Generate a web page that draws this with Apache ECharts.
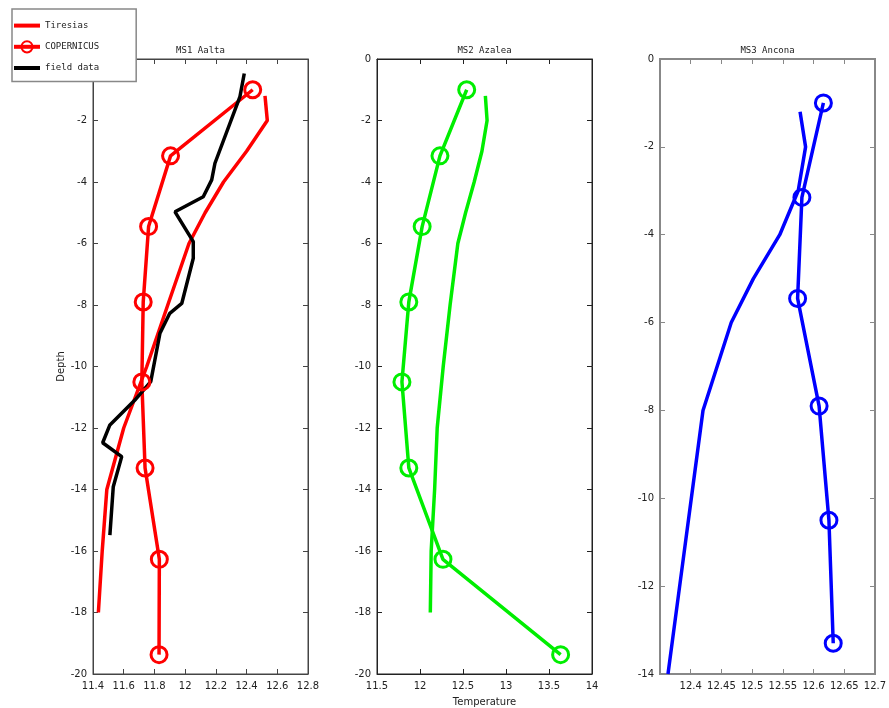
<!DOCTYPE html>
<html><head><meta charset="utf-8">
<script src="https://cdn.jsdelivr.net/npm/echarts@6/dist/echarts.min.js"></script>
<style>html,body{margin:0;padding:0;background:#fff}#c{width:889px;height:708px}</style>
</head><body><div id="c"></div>
<script>
// ---- data ----
const panelTitles = ['MS1 Aalta', 'MS2 Azalea', 'MS3 Ancona'];
const seriesNames = ['Tiresias', 'COPERNICUS', 'field data'];

const depthTiresias = [-1.2, -2, -3, -4, -5, -6, -8, -10, -12, -14, -16, -18];
const ms1Tiresias = [12.52, 12.535, 12.40, 12.25, 12.13, 12.025, 11.887, 11.75, 11.60, 11.49, 11.46, 11.435];
const ms2Tiresias = [12.76, 12.78, 12.72, 12.63, 12.53, 12.44, 12.35, 12.27, 12.20, 12.17, 12.13, 12.12];
const depthTiresiasMS3 = [-1.2, -2, -3, -4, -5, -6, -8, -10, -12, -14];
const ms3Tiresias = [12.578, 12.587, 12.575, 12.545, 12.502, 12.466, 12.42, 12.401, 12.382, 12.363];

const depthCopernicus = [-1, -3.15, -5.45, -7.9, -10.5, -13.3, -16.27, -19.37];
const ms1Copernicus = [12.44, 11.905, 11.762, 11.727, 11.718, 11.739, 11.832, 11.83];
const ms2Copernicus = [12.543, 12.232, 12.025, 11.87, 11.79, 11.87, 12.267, 13.635];
const depthCopernicusMS3 = [-1, -3.15, -5.45, -7.9, -10.5, -13.3];
const ms3Copernicus = [12.616, 12.581, 12.574, 12.609, 12.625, 12.632];

const depthField = [-0.47, -1.22, -3.39, -3.93, -4.48, -4.97, -5.94, -6.48, -7.95, -8.27, -8.92, -10.49, -11.09, -11.9, -12.48, -12.93, -13.91, -15.48];
const ms1Field = [12.385, 12.357, 12.194, 12.173, 12.118, 11.934, 12.053, 12.053, 11.978, 11.90, 11.836, 11.776, 11.673, 11.51, 11.463, 11.587, 11.532, 11.51];

// axis ranges (tick values)
const xMin = [11.4, 11.5, 12.35], xMax = [12.8, 14, 12.7], xStep = [0.2, 0.5, 0.05];
const yMin = [-20, -20, -14], yMax = [0, 0, 0], yStep = [2, 2, 2];

// ---- layout / style ----
const gridLeft = [93, 377, 660];
const gridW = 215, gridTop = 59, gridH = 615;
const colors = ['#ff0000', '#00ee00', '#0000ff'];
const axisCol = ['#444', '#222', '#888'];
const axisW = [1, 1, 2];
const font = 'DejaVu Sans';
const monoFont = 'DejaVu Sans Mono';

function pairs(xs, ys) { return xs.map((x, i) => [x, ys[i]]); }
function fmt(v) { return String(+v.toFixed(3)); }

const grids = [], xAxes = [], yAxes = [], series = [], graphics = [];
for (let p = 0; p < 3; p++) {
  grids.push({ left: gridLeft[p], top: gridTop, width: gridW, height: gridH, show: true,
    outerBoundsMode: 'none', containLabel: false,
    borderColor: axisCol[p], borderWidth: axisW[p], backgroundColor: 'transparent' });
  const common = {
    type: 'value', gridIndex: p, min: xMin[p], max: xMax[p], interval: xStep[p],
    splitLine: { show: false },
    axisLine: { show: true, onZero: false, lineStyle: { color: axisCol[p], width: axisW[p] } },
    axisTick: { show: true, inside: true, length: 5, lineStyle: { color: axisCol[p] } }
  };
  xAxes.push(Object.assign({}, common, {
    position: 'bottom',
    axisLabel: { fontFamily: font, fontSize: 10, color: '#222', margin: 7,
      showMinLabel: p !== 2, formatter: fmt },
    name: p === 1 ? 'Temperature' : '', nameLocation: 'middle', nameGap: 23,
    nameTextStyle: { fontFamily: font, fontSize: 10, color: '#222' }
  }));
  xAxes.push(Object.assign({}, common, { position: 'top', axisLabel: { show: false } }));
  const ycommon = {
    type: 'value', gridIndex: p, min: yMin[p], max: yMax[p], interval: yStep[p],
    splitLine: { show: false },
    axisLine: { show: true, onZero: false, lineStyle: { color: axisCol[p], width: axisW[p] } },
    axisTick: { show: true, inside: true, length: 5, lineStyle: { color: axisCol[p] } }
  };
  yAxes.push(Object.assign({}, ycommon, {
    position: 'left',
    axisLabel: { fontFamily: font, fontSize: 10, color: '#222', margin: 6 },
    name: p === 0 ? 'Depth' : '', nameLocation: 'middle', nameGap: 25, nameRotate: 90,
    nameTextStyle: { fontFamily: font, fontSize: 10, color: '#222' }
  }));
  yAxes.push(Object.assign({}, ycommon, { position: 'right', axisLabel: { show: false } }));

  graphics.push({ type: 'text', x: gridLeft[p] + gridW / 2, y: 46, z: 10,
    style: { text: panelTitles[p], font: '9px "DejaVu Sans Mono"', fill: '#222', textAlign: 'center' } });
}

const tData = [[depthTiresias, ms1Tiresias], [depthTiresias, ms2Tiresias], [depthTiresiasMS3, ms3Tiresias]];
const cData = [[depthCopernicus, ms1Copernicus], [depthCopernicus, ms2Copernicus], [depthCopernicusMS3, ms3Copernicus]];
for (let p = 0; p < 3; p++) {
  series.push({ name: seriesNames[0], type: 'line', xAxisIndex: 2 * p, yAxisIndex: 2 * p,
    data: pairs(tData[p][1], tData[p][0]), symbol: 'none', color: colors[p],
    lineStyle: { color: colors[p], width: 3.5 }, clip: true, animation: false });
  series.push({ name: seriesNames[1], type: 'line', xAxisIndex: 2 * p, yAxisIndex: 2 * p,
    data: pairs(cData[p][1], cData[p][0]), symbol: 'circle', symbolSize: 16, showSymbol: true,
    color: colors[p],
    itemStyle: { color: 'rgba(255,255,255,0)', borderColor: colors[p], borderWidth: 3 },
    lineStyle: { color: colors[p], width: 3.5 }, clip: true, animation: false });
}
series.push({ name: seriesNames[2], type: 'line', xAxisIndex: 0, yAxisIndex: 0,
  data: pairs(ms1Field, depthField), symbol: 'none', color: '#000',
  lineStyle: { color: '#000', width: 3.5 }, clip: true, animation: false });

const chart = echarts.init(document.getElementById('c'), null, { renderer: 'canvas' });
chart.setOption({
  animation: false,
  backgroundColor: '#fff',
  grid: grids, xAxis: xAxes, yAxis: yAxes, series: series,
  graphic: graphics,
  legend: {
    data: [
      { name: seriesNames[0], itemStyle: { opacity: 0 }, lineStyle: { width: 4 } },
      { name: seriesNames[1], lineStyle: { width: 4 } },
      { name: seriesNames[2], itemStyle: { opacity: 0 }, lineStyle: { width: 4 } }
    ],
    orient: 'vertical', left: 12, top: 9, z: 20,
    backgroundColor: '#fff', borderColor: '#888', borderWidth: 1.5,
    padding: [11, 37, 8, 0], itemWidth: 26, itemHeight: 14, itemGap: 9,
    textStyle: { fontFamily: monoFont, fontSize: 9, color: '#222' },
    itemTextGap: 4, selectedMode: false
  }
});
</script></body></html>
